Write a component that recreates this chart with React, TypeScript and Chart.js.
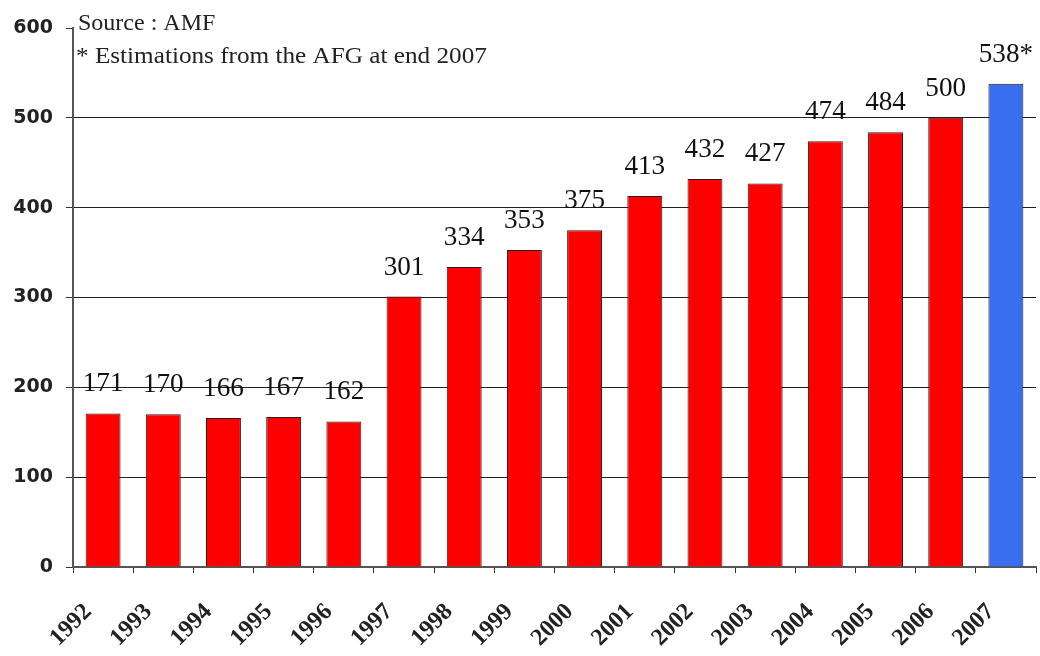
import React, { useEffect, useRef } from "react";
import { Chart, registerables } from "chart.js";

Chart.register(...registerables);

const years = ["1992", "1993", "1994", "1995", "1996", "1997", "1998", "1999", "2000", "2001", "2002", "2003", "2004", "2005", "2006", "2007"];
const values = [171, 170, 166, 167, 162, 301, 334, 353, 375, 413, 432, 427, 474, 484, 500, 538];
const estimatedYears = ["2007"];
const yTicks = [0, 100, 200, 300, 400, 500, 600];
const notes = ["Source : AMF", "* Estimations from the AFG at end 2007"];

const RED = "#ff0000";
const BLUE = "#3a6ef0";

const labelsPlugin = {
  id: "valueLabels",
  afterDatasetsDraw(chart: any) {
    const ctx = chart.ctx;
    const meta = chart.getDatasetMeta(0);
    ctx.save();
    ctx.fillStyle = "#111";
    ctx.font = "28px 'Liberation Serif', 'Times New Roman', serif";
    ctx.textAlign = "center";
    ctx.textBaseline = "alphabetic";
    meta.data.forEach((bar: any, i: number) => {
      const txt = String(values[i]) + (estimatedYears.includes(years[i]) ? "*" : "");
      ctx.save();
      ctx.translate(bar.x, bar.y - 22);
      ctx.scale(0.97, 1);
      ctx.fillText(txt, 0, 0);
      ctx.restore();
    });
    // notes
    const area = chart.chartArea;
    ctx.textAlign = "left";
    ctx.font = "24px 'Liberation Serif', 'Times New Roman', serif";
    ctx.fillStyle = "#222";
    notes.forEach((n, k) => {
      ctx.save();
      ctx.translate(area.left + (k === 0 ? 5 : 3), area.top + 2 + k * 33);
      ctx.scale(k === 0 ? 1.0 : 1.05, 1);
      ctx.fillText(n, 0, 0);
      ctx.restore();
    });
    ctx.restore();
  },
};

export default function App() {
  const ref = useRef<HTMLCanvasElement>(null);
  useEffect(() => {
    document.body.style.margin = "0";
    const chart = new Chart(ref.current!, {
      type: "bar",
      data: {
        labels: years,
        datasets: [
          {
            data: values,
            backgroundColor: years.map((y) => (estimatedYears.includes(y) ? BLUE : RED)),
            borderColor: "#2a1a1a",
            borderWidth: 1,
            categoryPercentage: 1,
            barPercentage: 0.58,
          },
        ],
      },
      options: {
        animation: false,
        responsive: true,
        maintainAspectRatio: false,
        layout: { padding: { top: 28, right: 4, left: 0, bottom: 0 } },
        plugins: { legend: { display: false }, tooltip: { enabled: false } },
        scales: {
          x: {
            offset: true,
            grid: {
              offset: true,
              drawOnChartArea: false,
              drawTicks: true,
              tickLength: 6,
              tickColor: "#333",
            },
            border: { display: true, color: "#555", width: 2 },
            ticks: {
              minRotation: 45,
              maxRotation: 45,
              padding: 25,
              labelOffset: -15,
              color: "#222",
              font: { family: "'Liberation Serif', 'Times New Roman', serif", size: 24, weight: "bold" },
            },
            afterFit: (s: any) => {
              s.height = 89;
              s.paddingLeft = 0;
              s.paddingRight = 0;
            },
          },
          y: {
            min: 0,
            max: 600,
            afterBuildTicks: (s: any) => {
              s.ticks = yTicks.map((v) => ({ value: v }));
            },
            grid: {
              color: (c: any) => (c.tick && (c.tick.value === 600 || c.tick.value === 0) ? "rgba(0,0,0,0)" : "#222"),
              lineWidth: 1,
              tickLength: 7,
              tickColor: "#333",
            },
            border: { display: true, color: "#555", width: 2 },
            ticks: {
              padding: 13,
              color: "#222",
              font: { family: "'DejaVu Sans', Verdana, sans-serif", size: 19, weight: "bold" },
            },
            afterFit: (s: any) => {
              s.width = 73;
            },
          },
        },
      },
      plugins: [labelsPlugin],
    });
    return () => chart.destroy();
  }, []);
  return (
    <div style={{ width: 1040, height: 656, position: "relative" }}>
      <canvas ref={ref} />
    </div>
  );
}
